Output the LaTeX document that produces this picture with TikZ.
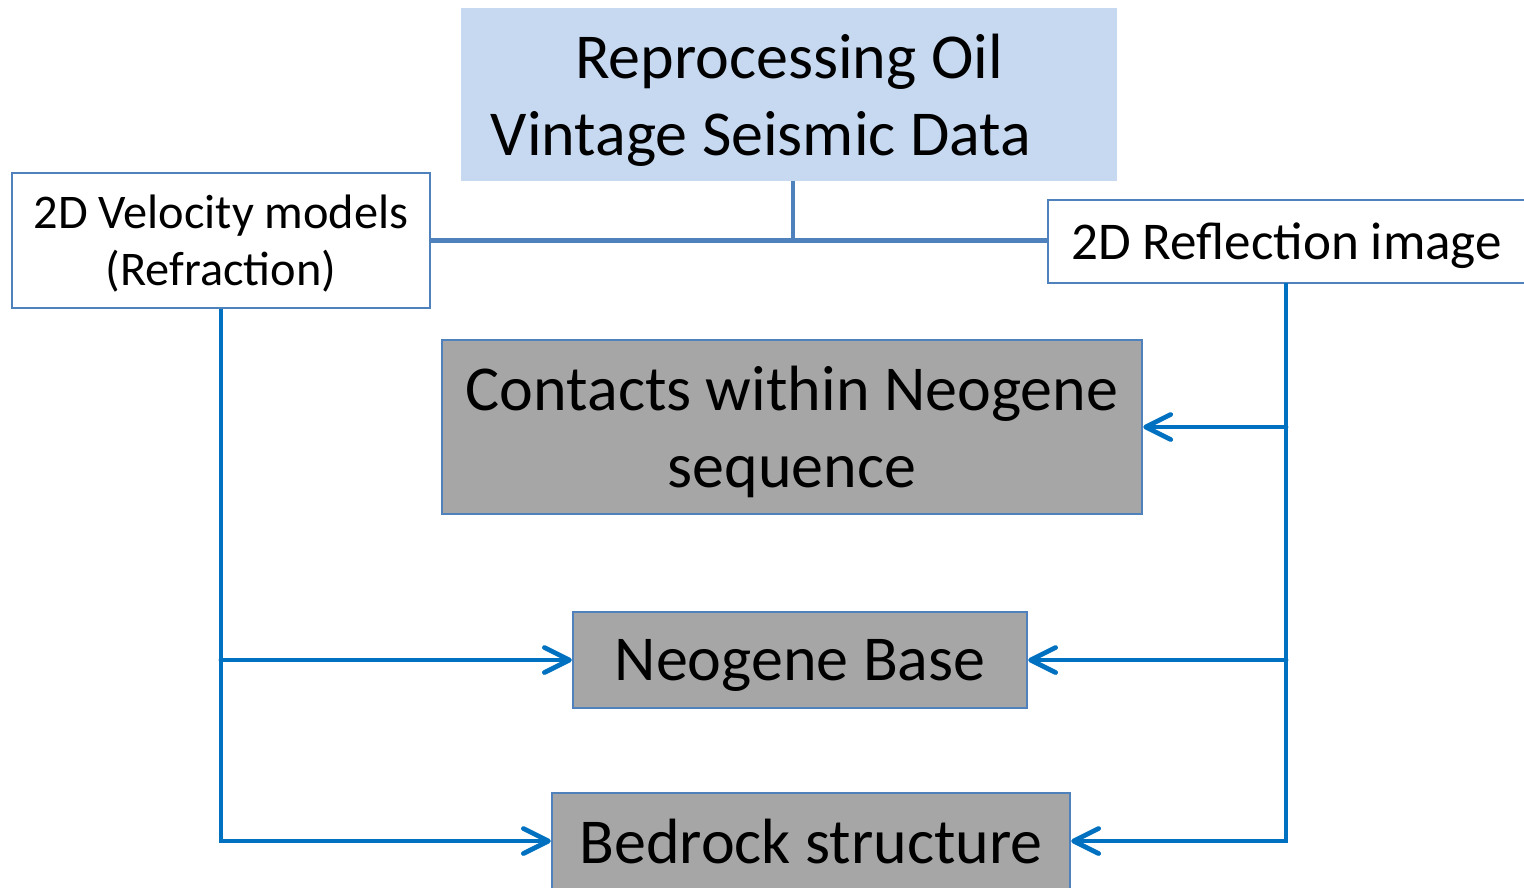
\documentclass[tikz,border=0pt]{standalone}
\usepackage{fontspec}
\setmainfont{Carlito}
\usetikzlibrary{arrows.meta,positioning}
\definecolor{srcblue}{RGB}{198,217,241}
\definecolor{edgeblue}{RGB}{79,129,189}
\definecolor{arrblue}{RGB}{0,112,192}
\definecolor{boxgray}{RGB}{166,166,166}
\begin{document}
\begin{tikzpicture}[x=0.01cm, y=-0.01cm, every node/.style={text depth=0pt},
  bigtext/.style={font=\fontsize{18.2}{22}\selectfont, align=center},
  smalltext/.style={font=\fontsize{13.75}{16.2}\selectfont, align=center},
  whitebox/.style={draw=edgeblue, fill=white, line width=0.6pt, smalltext},
  graybox/.style={draw=edgeblue, fill=boxgray, line width=0.6pt, bigtext},
  splitline/.style={edgeblue, line width=1.35pt},
  arr/.style={arrblue, line width=1.35pt, line cap=round, -{Straight Barb[length=0.25cm, width=0.25cm, round]}},
  trunk/.style={arrblue, line width=1.35pt}]
\clip (0,0) rectangle (1524,887);
% Source data
\node[fill=srcblue, minimum width=6.56cm, minimum height=1.73cm, bigtext] (src) at (789,94.5) {Reprocessing Oil\\Vintage Seismic Data\hspace*{0.56cm}};
% Products of the reprocessing
\node[whitebox, minimum width=4.18cm, minimum height=1.35cm] (vel) at (221,240.5) {2D Velocity models\\(Refraction)};
\node[whitebox, anchor=west, minimum height=0.83cm, inner xsep=0.23cm, font=\fontsize{15.1}{17}\selectfont] (refl) at (1047,241.5) {2D Reflection image\hspace*{0.3cm}};
\coordinate (srcfoot) at (793,181);
\draw[splitline] (srcfoot) -- (srcfoot |- vel.east);
\draw[splitline] (vel.east) -- (vel.east -| refl.west);
% Interpretation targets
\node[graybox, minimum width=7cm, minimum height=1.74cm] (cont) at (792,427) {Contacts within Neogene\\sequence};
\node[graybox, minimum width=4.54cm, minimum height=0.96cm] (base) at (800,660) {Neogene Base};
\node[graybox, minimum width=5.18cm, minimum height=0.96cm] (bed) at (811,841) {Bedrock structure};
% Refraction branch
\draw[trunk] (vel.south) -- (vel.south |- base.west);
\draw[arr] (vel.south |- base.west) |- (bed.west);
\draw[arr] (vel.south |- base.west) -- (base.west);
% Reflection branch
\coordinate (rt) at (1286,283);
\draw[trunk] (rt) -- (rt |- base.east);
\draw[arr] (rt |- base.east) |- (bed.east);
\draw[arr] (rt |- cont.east) -- (cont.east);
\draw[arr] (rt |- base.east) -- (base.east);
\end{tikzpicture}
\end{document}
